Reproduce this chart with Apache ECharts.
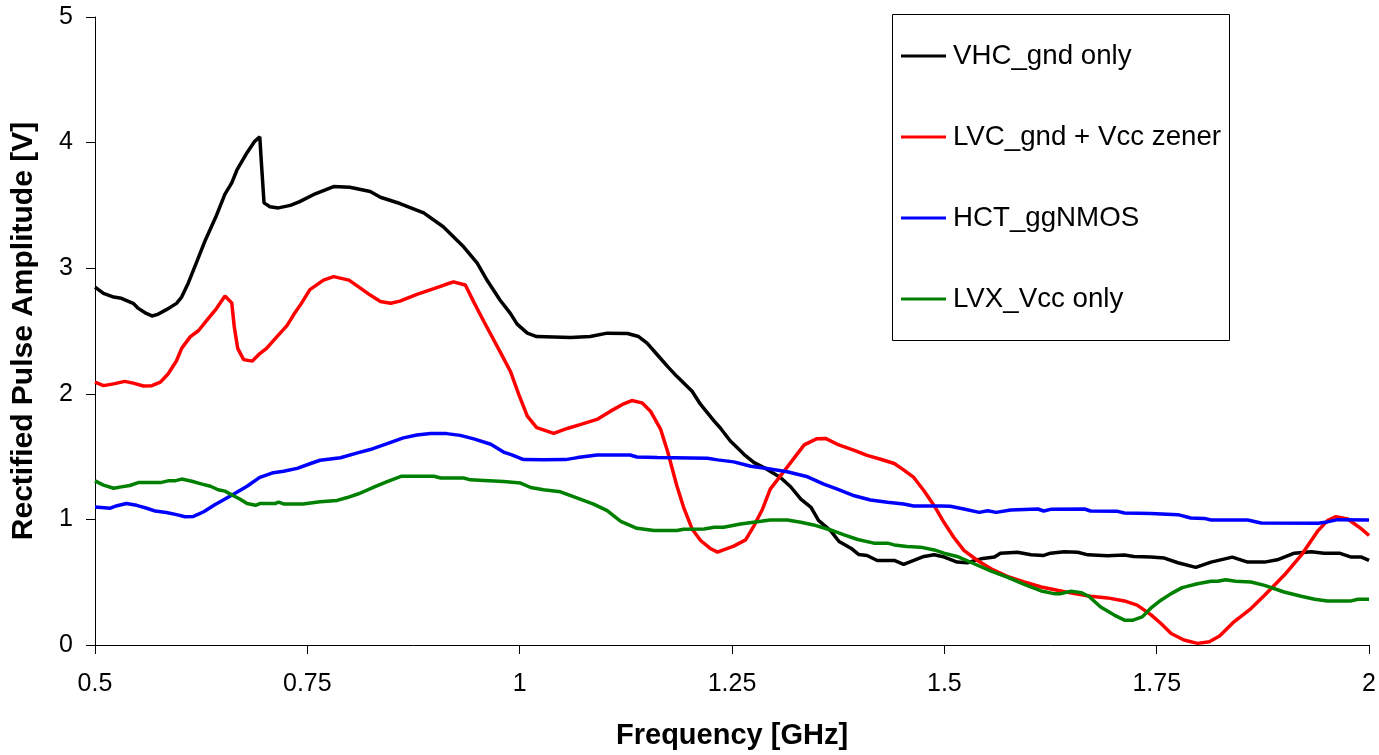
<!DOCTYPE html>
<html>
<head>
<meta charset="utf-8">
<script src="https://cdn.jsdelivr.net/npm/echarts@6/dist/echarts.min.js"></script>
<style>
html,body{margin:0;padding:0;background:#fff;}
#chart{width:1379px;height:755px;}
</style>
</head>
<body>
<div id="chart"></div>
<script>
const seriesNames = ['VHC_gnd only', 'LVC_gnd + Vcc zener', 'HCT_ggNMOS', 'LVX_Vcc only'];
const xTitle = 'Frequency [GHz]';
const yTitle = 'Rectified Pulse Amplitude [V]';

// [frequency GHz, amplitude V]
const vhcPoints = [[0.5,2.85],[0.51,2.80],[0.522,2.77],[0.531,2.76],[0.545,2.72],[0.551,2.68],[0.559,2.645],[0.567,2.62],[0.573,2.63],[0.584,2.67],[0.596,2.72],[0.602,2.77],[0.61,2.885],[0.62,3.055],[0.63,3.225],[0.643,3.42],[0.653,3.59],[0.661,3.68],[0.667,3.78],[0.679,3.92],[0.688,4.01],[0.694,4.045],[0.696,3.83],[0.699,3.52],[0.706,3.49],[0.716,3.48],[0.73,3.50],[0.741,3.53],[0.757,3.585],[0.781,3.65],[0.8,3.645],[0.824,3.61],[0.836,3.565],[0.859,3.515],[0.887,3.44],[0.91,3.33],[0.934,3.17],[0.95,3.04],[0.962,2.90],[0.977,2.745],[0.989,2.64],[0.997,2.555],[1.009,2.483],[1.02,2.456],[1.06,2.448],[1.083,2.456],[1.103,2.483],[1.127,2.48],[1.14,2.456],[1.15,2.403],[1.162,2.311],[1.174,2.218],[1.185,2.139],[1.203,2.02],[1.213,1.915],[1.229,1.783],[1.236,1.73],[1.248,1.624],[1.252,1.598],[1.264,1.518],[1.276,1.452],[1.291,1.40],[1.307,1.334],[1.319,1.26],[1.331,1.162],[1.343,1.096],[1.352,0.99],[1.366,0.911],[1.376,0.824],[1.39,0.771],[1.399,0.721],[1.409,0.713],[1.421,0.673],[1.441,0.673],[1.452,0.642],[1.464,0.673],[1.476,0.705],[1.488,0.718],[1.5,0.70],[1.515,0.66],[1.527,0.655],[1.543,0.686],[1.559,0.70],[1.566,0.731],[1.586,0.739],[1.602,0.718],[1.617,0.713],[1.625,0.731],[1.641,0.742],[1.657,0.739],[1.669,0.718],[1.692,0.71],[1.712,0.716],[1.723,0.705],[1.743,0.70],[1.759,0.692],[1.775,0.655],[1.796,0.618],[1.814,0.66],[1.839,0.70],[1.857,0.66],[1.877,0.66],[1.892,0.678],[1.912,0.731],[1.932,0.742],[1.947,0.731],[1.965,0.731],[1.979,0.70],[1.991,0.70],[2.0,0.673]];

const lvcPoints = [[0.5,2.093],[0.51,2.065],[0.522,2.079],[0.535,2.099],[0.545,2.085],[0.557,2.062],[0.567,2.065],[0.577,2.093],[0.586,2.158],[0.596,2.263],[0.602,2.362],[0.612,2.453],[0.622,2.504],[0.632,2.588],[0.643,2.679],[0.653,2.778],[0.661,2.724],[0.664,2.532],[0.668,2.362],[0.675,2.272],[0.685,2.26],[0.694,2.32],[0.702,2.362],[0.714,2.453],[0.726,2.543],[0.734,2.631],[0.743,2.72],[0.753,2.829],[0.769,2.905],[0.781,2.933],[0.799,2.905],[0.812,2.843],[0.824,2.786],[0.836,2.735],[0.848,2.721],[0.859,2.738],[0.879,2.792],[0.899,2.837],[0.911,2.866],[0.922,2.891],[0.936,2.866],[0.946,2.73],[0.958,2.574],[0.977,2.334],[0.989,2.18],[0.999,1.994],[1.009,1.822],[1.02,1.73],[1.04,1.685],[1.056,1.724],[1.072,1.756],[1.091,1.796],[1.107,1.862],[1.121,1.915],[1.132,1.946],[1.144,1.928],[1.154,1.862],[1.166,1.716],[1.174,1.545],[1.185,1.268],[1.193,1.096],[1.203,0.924],[1.213,0.832],[1.225,0.766],[1.233,0.739],[1.236,0.747],[1.252,0.787],[1.266,0.837],[1.276,0.951],[1.286,1.083],[1.295,1.241],[1.307,1.347],[1.319,1.452],[1.335,1.593],[1.35,1.643],[1.36,1.645],[1.374,1.598],[1.394,1.55],[1.409,1.51],[1.425,1.479],[1.441,1.445],[1.452,1.394],[1.464,1.334],[1.476,1.228],[1.488,1.109],[1.4995,0.977],[1.511,0.858],[1.523,0.753],[1.539,0.673],[1.555,0.607],[1.574,0.547],[1.594,0.502],[1.614,0.462],[1.633,0.436],[1.653,0.409],[1.672,0.388],[1.692,0.375],[1.712,0.351],[1.727,0.317],[1.743,0.242],[1.755,0.171],[1.767,0.092],[1.782,0.04],[1.798,0.013],[1.812,0.026],[1.824,0.071],[1.841,0.185],[1.861,0.29],[1.877,0.396],[1.9,0.555],[1.92,0.713],[1.94,0.911],[1.951,0.99],[1.961,1.022],[1.975,1.003],[1.991,0.924],[2.0,0.872]];

const hctPoints = [[0.5,1.098],[0.518,1.089],[0.526,1.109],[0.537,1.126],[0.549,1.112],[0.561,1.089],[0.571,1.066],[0.584,1.055],[0.596,1.038],[0.606,1.021],[0.616,1.024],[0.628,1.061],[0.641,1.117],[0.651,1.154],[0.667,1.216],[0.679,1.264],[0.694,1.335],[0.71,1.372],[0.722,1.383],[0.738,1.406],[0.753,1.443],[0.765,1.471],[0.789,1.491],[0.808,1.528],[0.824,1.556],[0.844,1.604],[0.863,1.649],[0.879,1.672],[0.895,1.683],[0.914,1.683],[0.93,1.669],[0.946,1.641],[0.966,1.598],[0.981,1.536],[0.99,1.515],[1.001,1.485],[1.005,1.476],[1.028,1.474],[1.054,1.476],[1.068,1.492],[1.091,1.513],[1.13,1.513],[1.138,1.497],[1.162,1.492],[1.221,1.487],[1.233,1.474],[1.252,1.458],[1.272,1.423],[1.291,1.405],[1.315,1.379],[1.339,1.339],[1.358,1.281],[1.374,1.241],[1.394,1.188],[1.413,1.154],[1.433,1.136],[1.452,1.122],[1.464,1.106],[1.496,1.106],[1.507,1.104],[1.523,1.083],[1.541,1.056],[1.551,1.069],[1.561,1.056],[1.578,1.075],[1.61,1.083],[1.617,1.067],[1.625,1.08],[1.665,1.083],[1.672,1.067],[1.704,1.064],[1.712,1.051],[1.743,1.046],[1.775,1.038],[1.79,1.011],[1.806,1.008],[1.814,0.995],[1.857,0.995],[1.873,0.972],[1.94,0.969],[1.951,0.98],[1.963,0.998],[2.0,0.995]];

const lvxPoints = [[0.5,1.307],[0.51,1.273],[0.522,1.248],[0.531,1.259],[0.541,1.27],[0.551,1.293],[0.577,1.293],[0.586,1.307],[0.594,1.307],[0.602,1.321],[0.614,1.304],[0.626,1.281],[0.636,1.264],[0.645,1.236],[0.653,1.225],[0.663,1.188],[0.671,1.16],[0.679,1.126],[0.689,1.112],[0.694,1.126],[0.712,1.126],[0.716,1.137],[0.722,1.123],[0.745,1.123],[0.765,1.14],[0.785,1.151],[0.797,1.174],[0.812,1.208],[0.829,1.259],[0.844,1.301],[0.861,1.344],[0.899,1.344],[0.907,1.33],[0.934,1.33],[0.942,1.315],[0.958,1.31],[0.981,1.301],[1.001,1.289],[1.013,1.254],[1.028,1.236],[1.048,1.22],[1.068,1.17],[1.087,1.122],[1.103,1.07],[1.119,0.985],[1.138,0.929],[1.158,0.911],[1.185,0.911],[1.193,0.921],[1.217,0.924],[1.229,0.937],[1.24,0.937],[1.26,0.964],[1.284,0.985],[1.295,0.995],[1.315,0.995],[1.331,0.977],[1.346,0.956],[1.366,0.916],[1.382,0.877],[1.398,0.84],[1.417,0.811],[1.433,0.811],[1.441,0.797],[1.456,0.784],[1.472,0.779],[1.488,0.757],[1.4995,0.731],[1.515,0.705],[1.535,0.647],[1.555,0.589],[1.574,0.541],[1.594,0.483],[1.614,0.43],[1.629,0.409],[1.637,0.409],[1.649,0.428],[1.661,0.417],[1.67,0.388],[1.684,0.303],[1.7,0.238],[1.712,0.198],[1.722,0.198],[1.733,0.224],[1.743,0.293],[1.755,0.357],[1.767,0.409],[1.78,0.457],[1.798,0.488],[1.814,0.507],[1.822,0.507],[1.831,0.52],[1.843,0.507],[1.861,0.502],[1.877,0.475],[1.9,0.422],[1.92,0.388],[1.936,0.364],[1.951,0.351],[1.979,0.351],[1.987,0.364],[2.0,0.364]];

const seriesPoints = [vhcPoints, lvcPoints, hctPoints, lvxPoints];
const seriesColors = ['#000000', '#ff0000', '#0000ff', '#008000'];

const FONT = '"Liberation Sans", Arial, sans-serif';
const chart = echarts.init(document.getElementById('chart'), null, {renderer: 'canvas'});

chart.setOption({
  backgroundColor: '#ffffff',
  animation: false,
  grid: {left: 95, right: 9, top: 17, bottom: 107, containLabel: false},
  xAxis: {
    type: 'value', min: 0.5, max: 2, interval: 0.25,
    name: xTitle, nameLocation: 'middle', nameGap: 76,
    nameTextStyle: {fontFamily: FONT, fontSize: 29, fontWeight: 'bold', color: '#000'},
    axisLine: {show: true, onZero: false, lineStyle: {color: '#000', width: 1}},
    axisTick: {show: true, inside: false, length: 9, lineStyle: {color: '#000', width: 1}},
    axisLabel: {fontFamily: FONT, fontSize: 25, color: '#000', margin: 27},
    splitLine: {show: false}
  },
  yAxis: {
    type: 'value', min: 0, max: 5, interval: 1,
    name: yTitle, nameLocation: 'middle', nameGap: 56,
    nameTextStyle: {fontFamily: FONT, fontSize: 30, fontWeight: 'bold', color: '#000'},
    axisLine: {show: true, lineStyle: {color: '#000', width: 1}},
    axisTick: {show: true, inside: false, length: 9, lineStyle: {color: '#000', width: 1}},
    axisLabel: {fontFamily: FONT, fontSize: 25, color: '#000', margin: 22},
    splitLine: {show: false}
  },
  legend: {
    orient: 'vertical', left: 901, top: 42, padding: 0,
    icon: 'rect', itemWidth: 45, itemHeight: 3, itemGap: 53,
    textStyle: {fontFamily: FONT, fontSize: 27.7, color: '#000', lineHeight: 27, padding: [0, 0, 0, 2]},
    data: seriesNames
  },
  graphic: [{
    type: 'rect', silent: true, z: 1,
    shape: {x: 892.5, y: 14.5, width: 337, height: 326},
    style: {fill: '#fff', stroke: '#000', lineWidth: 1}
  }],
  series: seriesNames.map((n, i) => ({
    name: n, type: 'line', data: seriesPoints[i],
    symbol: 'none', smooth: false, z: 3,
    color: seriesColors[i],
    lineStyle: {color: seriesColors[i], width: 3.5}
  }))
});
</script>
</body>
</html>
